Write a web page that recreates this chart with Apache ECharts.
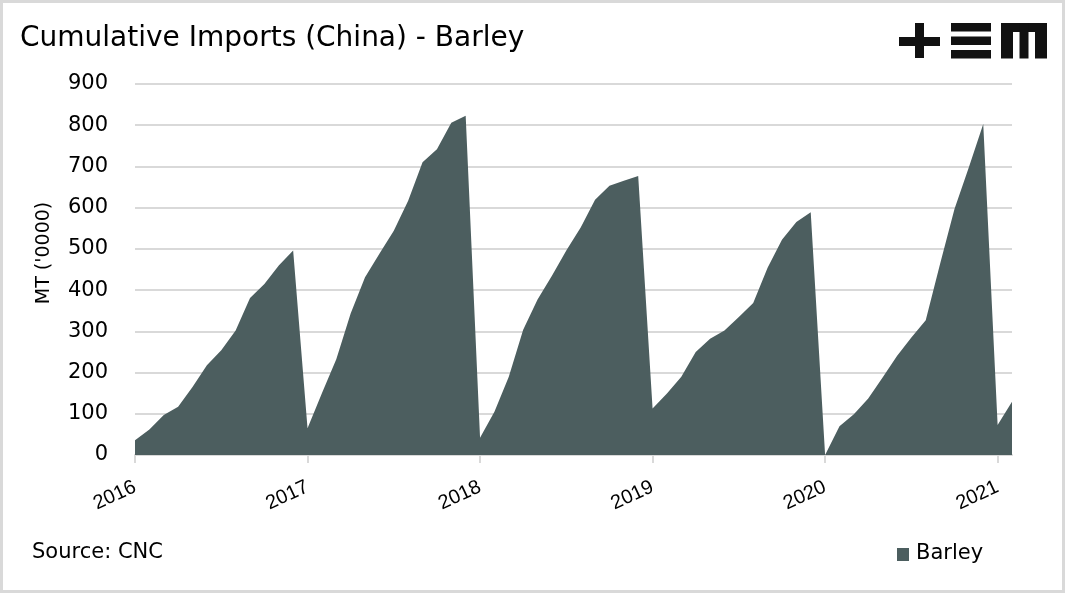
<!DOCTYPE html>
<html>
<head>
<meta charset="utf-8">
<script src="https://cdn.jsdelivr.net/npm/echarts@6/dist/echarts.min.js"></script>
<style>
  html, body { margin: 0; padding: 0; background: #fff; }
  #chart { width: 1065px; height: 593px; box-sizing: border-box; border: 3px solid #d9d9d9; }
</style>
</head>
<body>
<div id="chart"></div>
<script>
// ---- Data ----
const categories = [
  '2016-01','2016-02','2016-03','2016-04','2016-05','2016-06','2016-07','2016-08','2016-09','2016-10','2016-11','2016-12',
  '2017-01','2017-02','2017-03','2017-04','2017-05','2017-06','2017-07','2017-08','2017-09','2017-10','2017-11','2017-12',
  '2018-01','2018-02','2018-03','2018-04','2018-05','2018-06','2018-07','2018-08','2018-09','2018-10','2018-11','2018-12',
  '2019-01','2019-02','2019-03','2019-04','2019-05','2019-06','2019-07','2019-08','2019-09','2019-10','2019-11','2019-12',
  '2020-01','2020-02','2020-03','2020-04','2020-05','2020-06','2020-07','2020-08','2020-09','2020-10','2020-11','2020-12',
  '2021-01','2021-02'
];
const barley = [
  36, 62, 97, 117, 165, 218, 254, 302, 381, 415, 460, 496,
  65, 150, 232, 343, 431, 488, 544, 617, 710, 742, 806, 823,
  42, 105, 190, 304, 377, 435, 496, 552, 619, 653, 665, 677,
  113, 149, 190, 250, 282, 302, 335, 369, 454, 522, 565, 589,
  0, 70, 99, 137, 188, 240, 285, 327, 464, 597, 698, 803,
  73, 129
];
const yTicks = [0, 100, 200, 300, 400, 500, 600, 700, 800, 900];

const titleText = 'Cumulative Imports (China) - Barley';
const yAxisName = "MT ('0000)";
const sourceText = 'Source: CNC';
const seriesName = 'Barley';

const FONT = '"DejaVu Sans", sans-serif';
const FONT_X = '"Liberation Sans", Arial, sans-serif';
const AREA = '#4c5e5f';
const GRID = '#d9d9d9';

const chart = echarts.init(document.getElementById('chart'), null, { renderer: 'canvas' });
const isYearStart = (idx) => idx % 12 === 0;

// chart canvas is offset by the 3px border: graphic coords = page coords - 3
chart.setOption({
  animation: false,
  textStyle: { fontFamily: FONT },
  grid: { left: 132, right: 50, top: 81, bottom: 135, containLabel: false },
  xAxis: {
    type: 'category',
    data: categories,
    boundaryGap: false,
    axisLine: { lineStyle: { color: GRID, width: 2 } },
    axisTick: { show: true, interval: (i) => isYearStart(i), length: 8, lineStyle: { color: GRID, width: 2 } },
    axisLabel: {
      interval: (i) => isYearStart(i),
      formatter: (v) => v.slice(0, 4),
      rotate: 25,
      margin: 31,
      fontSize: 20,
      color: '#000',
      fontFamily: FONT_X
    },
    splitLine: { show: false }
  },
  yAxis: {
    type: 'value',
    min: yTicks[0],
    max: yTicks[yTicks.length - 1],
    interval: 100,
    axisLine: { show: false },
    axisTick: { show: false },
    axisLabel: { fontSize: 21, color: '#000', margin: 27, fontFamily: FONT },
    splitLine: { lineStyle: { color: GRID, width: 2 } }
  },
  series: [{
    name: seriesName,
    type: 'line',
    data: barley,
    symbol: 'none',
    lineStyle: { width: 0 },
    areaStyle: { color: AREA, opacity: 1 },
    z: 3
  }],
  graphic: [
    { type: 'text', x: 17, y: 36, style: { text: titleText, fontSize: 28, fill: '#000', fontFamily: FONT, verticalAlign: 'middle' } },
    { type: 'text', x: 41, y: 250, rotation: Math.PI / 2, style: { text: yAxisName, fontSize: 19, fill: '#000', fontFamily: FONT, align: 'center', verticalAlign: 'middle' } },
    { type: 'text', x: 29, y: 550, style: { text: sourceText, fontSize: 21, fill: '#000', fontFamily: FONT, verticalAlign: 'middle' } },
    { type: 'rect', shape: { x: 894, y: 545, width: 12, height: 13 }, style: { fill: AREA } },
    { type: 'text', x: 913, y: 551, style: { text: seriesName, fontSize: 21, fill: '#000', fontFamily: FONT, verticalAlign: 'middle' } },
    // logo "+EM"
    { type: 'group', x: -3, y: -3, children: [
      { type: 'rect', shape: { x: 899, y: 37, width: 41, height: 9 }, style: { fill: '#111' } },
      { type: 'rect', shape: { x: 915, y: 23, width: 9, height: 35 }, style: { fill: '#111' } },
      { type: 'rect', shape: { x: 951, y: 23, width: 40, height: 8.5 }, style: { fill: '#111' } },
      { type: 'rect', shape: { x: 951, y: 36.5, width: 40, height: 8.5 }, style: { fill: '#111' } },
      { type: 'rect', shape: { x: 951, y: 50, width: 40, height: 8.5 }, style: { fill: '#111' } },
      { type: 'rect', shape: { x: 1001, y: 23, width: 46, height: 9 }, style: { fill: '#111' } },
      { type: 'rect', shape: { x: 1001, y: 23, width: 12, height: 35.5 }, style: { fill: '#111' } },
      { type: 'rect', shape: { x: 1019.5, y: 23, width: 9, height: 35.5 }, style: { fill: '#111' } },
      { type: 'rect', shape: { x: 1035, y: 23, width: 12, height: 35.5 }, style: { fill: '#111' } }
    ]}
  ]
});
</script>
</body>
</html>
